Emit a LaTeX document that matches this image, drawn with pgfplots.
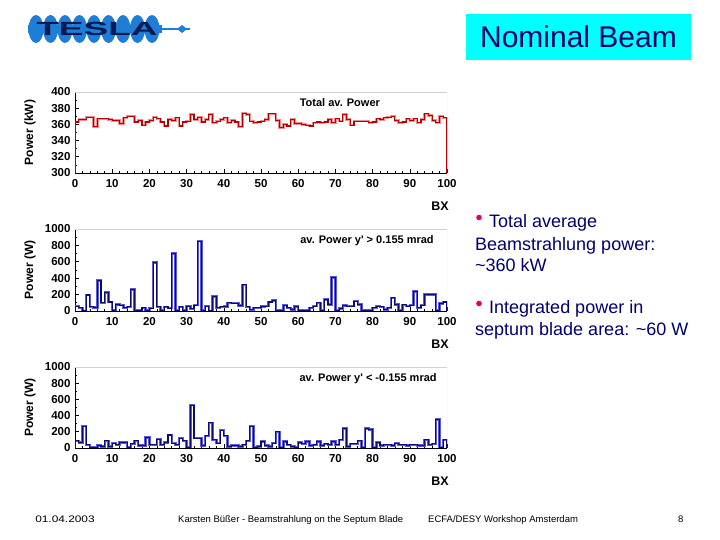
\documentclass[border=0pt]{standalone}
\usepackage{fontspec}
\setmainfont{Liberation Sans}
\usepackage{pgfplots}
\usepackage{pgfplotstable}
\pgfplotsset{compat=1.18}

\definecolor{redcore}{RGB}{185,0,0}
\definecolor{redhalo}{RGB}{240,140,140}
\definecolor{bluecore}{RGB}{10,10,120}
\definecolor{bluehalo}{RGB}{90,90,215}
\definecolor{navytext}{RGB}{0,0,110}
\definecolor{boxcyan}{RGB}{0,255,255}
\definecolor{bulletpink}{RGB}{220,0,110}
\definecolor{logoblue}{RGB}{30,125,215}
\definecolor{logotext}{RGB}{10,25,80}

\pgfplotstableread[row sep=\\]{
x y\\
0 300\\0 363\\1 366\\2 366\\3 369\\4 369\\5 357\\6 367\\7 367\\8 367\\9 366\\
10 365\\11 365\\12 361\\13 368\\14 370\\15 370\\16 363\\17 365\\18 359\\19 363\\
20 365\\21 369\\22 367\\23 363\\24 358\\25 366\\26 365\\27 368\\28 358\\29 363\\
30 364\\31 372\\32 366\\33 369\\34 363\\35 366\\36 372\\37 362\\38 364\\39 366\\
40 368\\41 362\\42 365\\43 363\\44 357\\45 374\\46 372\\47 364\\48 362\\49 363\\
50 364\\51 366\\52 373\\53 373\\54 365\\55 356\\56 360\\57 358\\58 366\\59 361\\
60 361\\61 360\\62 359\\63 358\\64 362\\65 363\\66 362\\67 363\\68 366\\69 362\\
70 367\\71 364\\72 372\\73 366\\74 359\\75 364\\76 364\\77 364\\78 364\\79 362\\
80 363\\81 367\\82 366\\83 368\\84 369\\85 370\\86 365\\87 362\\88 363\\89 367\\
90 365\\91 367\\92 362\\93 366\\94 373\\95 371\\96 365\\97 362\\98 370\\99 368\\
100 368\\100 300\\
}\tabA

\pgfplotstableread[row sep=\\]{
x y\\
0 0\\0 60\\1 40\\2 0\\3 195\\4 50\\5 45\\6 370\\7 100\\8 225\\9 110\\
10 10\\11 80\\12 70\\13 40\\14 50\\15 260\\16 5\\17 5\\18 40\\19 10\\
20 35\\21 590\\22 50\\23 10\\24 50\\25 35\\26 700\\27 5\\28 50\\29 10\\
30 60\\31 25\\32 70\\33 850\\34 5\\35 60\\36 0\\37 175\\38 40\\39 50\\
40 55\\41 100\\42 95\\43 95\\44 65\\45 320\\46 50\\47 15\\48 40\\49 40\\
50 55\\51 60\\52 110\\53 130\\54 10\\55 10\\56 70\\57 40\\58 20\\59 55\\
60 5\\61 5\\62 5\\63 40\\64 60\\65 100\\66 10\\67 140\\68 80\\69 410\\
70 10\\71 30\\72 65\\73 60\\74 60\\75 120\\76 80\\77 10\\78 10\\79 10\\
80 40\\81 60\\82 50\\83 20\\84 40\\85 160\\86 80\\87 10\\88 75\\89 60\\
90 70\\91 240\\92 40\\93 70\\94 200\\95 200\\96 200\\97 10\\98 90\\99 110\\
100 110\\100 0\\
}\tabB

\pgfplotstableread[row sep=\\]{
x y\\
0 0\\0 90\\1 70\\2 270\\3 40\\4 10\\5 10\\6 30\\7 20\\8 90\\9 20\\
10 60\\11 40\\12 70\\13 70\\14 10\\15 50\\16 90\\17 30\\18 30\\19 130\\
20 40\\21 40\\22 110\\23 40\\24 70\\25 160\\26 60\\27 40\\28 120\\29 90\\
30 10\\31 530\\32 120\\33 120\\34 30\\35 150\\36 310\\37 100\\38 60\\39 220\\
40 150\\41 20\\42 30\\43 30\\44 20\\45 40\\46 90\\47 270\\48 10\\49 20\\
50 80\\51 30\\52 20\\53 60\\54 200\\55 10\\56 80\\57 40\\58 20\\59 10\\
60 70\\61 50\\62 80\\63 30\\64 40\\65 80\\66 30\\67 50\\68 40\\69 80\\
70 40\\71 100\\72 240\\73 20\\74 50\\75 50\\76 90\\77 10\\78 240\\79 230\\
80 10\\81 70\\82 30\\83 40\\84 40\\85 30\\86 60\\87 40\\88 40\\89 30\\
90 40\\91 40\\92 30\\93 30\\94 100\\95 40\\96 50\\97 350\\98 10\\99 100\\
100 100\\100 0\\
}\tabC

\pgfplotsset{
  rootaxis/.style={
    scale only axis, width=372pt,
    xmin=0, xmax=100, xtick={0,10,...,100},
    minor x tick num=4, minor y tick num=1,
    axis x line*=bottom, axis y line*=left,
    tick align=inside, major tick length=4pt, minor tick length=2pt,
    axis line style={black, line width=0.8pt},
    every tick/.style={black, line width=0.6pt},
    tick label style={font=\fontsize{11.5}{12}\selectfont\bfseries},
    xticklabel style={yshift=-3pt},
    yticklabel style={xshift=-1pt},
    /pgf/number format/assume math mode=true,
    /pgf/number format/1000 sep={},
    xlabel={BX},
    every axis x label/.style={at={(rel axis cs:1,0)}, anchor=center,
      xshift=-7pt, yshift=-33pt, font=\fontsize{12.5}{13}\selectfont\bfseries},
    every axis y label/.style={at={(rel axis cs:0,0.5)}, rotate=90,
      anchor=center, yshift=45pt, font=\fontsize{12}{13}\selectfont\bfseries},
  },
  halo/.style={const plot, line width=2.4pt, #1},
  core/.style={const plot, line width=1.1pt, #1},
}

\begin{document}
\begin{tikzpicture}[x=1pt,y=1pt]
\useasboundingbox (0,0) rectangle (720,540);
\fill[white] (0,0) rectangle (720,540);

% logo
\fill[logoblue] (28,507) rectangle (162,515);
\foreach \k in {0,...,8} {
  \fill[logoblue] (36+14.5*\k,511) ellipse (7.5 and 14);
}
\draw[logoblue, line width=1.6pt] (160,511) -- (190,511);
\fill[logoblue] (177,511) -- (182,515) -- (187,511) -- (182,507) -- cycle;
\node[logotext, font=\fontsize{19}{20}\selectfont\bfseries, xscale=1.95] at (97,511) {TESLA};

% title box
\fill[boxcyan] (466,480) rectangle (691,526);
\node[navytext, font=\fontsize{30}{32}\selectfont] at (578.5,503) {Nominal Beam};

% bullet text
\fill[bulletpink] (479,322.5) circle (2.8);
\node[navytext, font=\fontsize{18}{20}\selectfont, anchor=base west, inner sep=0pt] at (489,312) {Total average};
\node[navytext, font=\fontsize{18}{20}\selectfont, anchor=base west, inner sep=0pt] at (475,289) {Beamstrahlung power:};
\node[navytext, font=\fontsize{18}{20}\selectfont, anchor=base west, inner sep=0pt] at (475,268) {\char"007E 360 kW};
\fill[bulletpink] (479,236.5) circle (2.8);
\node[navytext, font=\fontsize{18}{20}\selectfont, anchor=base west, inner sep=0pt] at (489,226) {Integrated power in};
\node[navytext, font=\fontsize{18}{20}\selectfont, anchor=base west, inner sep=0pt] at (475,204) {septum blade area: \char"007E 60 W};

% footer
\node[font=\fontsize{9.5}{10}\selectfont, anchor=base west, inner sep=0pt, xscale=1.25] at (35,17) {01.04.2003};
\node[font=\fontsize{9.5}{10}\selectfont, anchor=base west, inner sep=0pt] at (178,17) {Karsten Büßer - Beamstrahlung on the Septum Blade};
\node[font=\fontsize{9.5}{10}\selectfont, anchor=base west, inner sep=0pt] at (428,17) {ECFA/DESY Workshop Amsterdam};
\node[font=\fontsize{9.5}{10}\selectfont, anchor=base west, inner sep=0pt] at (678,17) {8};

% panel 1
\begin{axis}[rootaxis, at={(75pt,367pt)}, anchor=south west, height=81pt,
  ymin=300, ymax=400, ytick={300,320,...,400}, ylabel={Power (kW)}]
\addplot[halo=redhalo] table {\tabA};
\addplot[core=redcore] table {\tabA};
\draw[gray!35, line width=0.8pt] (rel axis cs:0,1) -- (rel axis cs:1,1) -- (rel axis cs:1,0);
\node[font=\fontsize{11}{12}\selectfont\bfseries] at (rel axis cs:0.712,0.864) {Total av. Power};
\end{axis}

% panel 2
\begin{axis}[rootaxis, at={(75pt,229pt)}, anchor=south west, height=82pt,
  ymin=0, ymax=1000, ytick={0,200,...,1000}, ylabel={Power (W)}]
\addplot[halo=bluehalo] table {\tabB};
\addplot[core=bluecore] table {\tabB};
\draw[gray!35, line width=0.8pt] (rel axis cs:0,1) -- (rel axis cs:1,1) -- (rel axis cs:1,0);
\node[font=\fontsize{11}{12}\selectfont\bfseries] at (rel axis cs:0.785,0.854) {av. Power y\textquotesingle\ > 0.155 mrad};
\end{axis}

% panel 3
\begin{axis}[rootaxis, at={(75pt,92pt)}, anchor=south west, height=81pt,
  ymin=0, ymax=1000, ytick={0,200,...,1000}, ylabel={Power (W)}]
\addplot[halo=bluehalo] table {\tabC};
\addplot[core=bluecore] table {\tabC};
\draw[gray!35, line width=0.8pt] (rel axis cs:0,1) -- (rel axis cs:1,1) -- (rel axis cs:1,0);
\node[font=\fontsize{11}{12}\selectfont\bfseries] at (rel axis cs:0.788,0.852) {av. Power y\textquotesingle\ < -0.155 mrad};
\end{axis}
\end{tikzpicture}
\end{document}
